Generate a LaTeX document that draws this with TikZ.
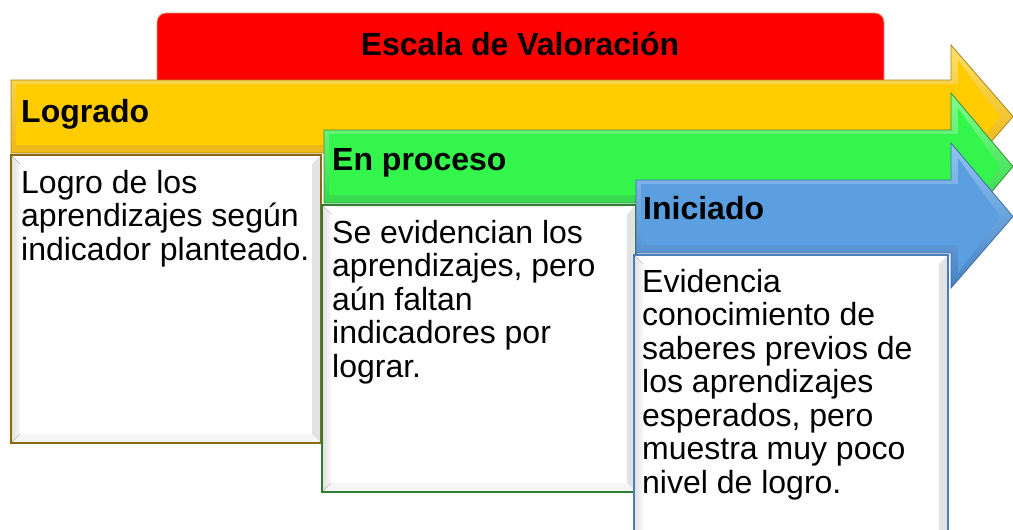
\documentclass[tikz,border=0pt]{standalone}
\usepackage{fontspec}
\setmainfont{Liberation Sans}
\usetikzlibrary{fit}
\definecolor{ylmain}{HTML}{FFCC00}
\definecolor{yllight}{HTML}{FFE066}
\definecolor{yldark}{HTML}{E6AA00}
\definecolor{ylline}{HTML}{A8841C}
\definecolor{grmain}{HTML}{33F54B}
\definecolor{grlight}{HTML}{80FF8E}
\definecolor{grdark}{HTML}{1FCC38}
\definecolor{grline}{HTML}{3A8F3A}
\definecolor{blmain}{HTML}{5B9FE0}
\definecolor{bllight}{HTML}{90C4F4}
\definecolor{bldark}{HTML}{4682C4}
\definecolor{blline}{HTML}{41709F}
\definecolor{titlered}{HTML}{FF0000}
\definecolor{titleline}{HTML}{E0A070}
\definecolor{ylbox}{HTML}{8B6914}
\definecolor{grbox}{HTML}{2E7D32}
\definecolor{blbox}{HTML}{4A7EBB}

\tikzset{
  headtext/.style={font=\fontsize{32}{34}\selectfont\bfseries, inner sep=0pt, anchor=base west},
  bodytext/.style={font=\fontsize{32}{33.5}\selectfont, inner sep=0pt, anchor=base west},
  boxframe/.style={inner sep=0pt, line width=1.6pt},
}

% #1 x0, #2 body top, #3 body bottom, #4 head top, #5 head bottom, #6 colour prefix
\newcommand\bevarrow[6]{%
  \path[top color=#6light, bottom color=#6dark, draw=#6line, line width=0.8pt]
    (#1,#2) -- (951,#2) -- (951,#4) -- (1013,{(#2+#3)/2}) -- (951,#5) -- (951,#3) -- (#1,#3) -- cycle;
  \fill[#6main] ({#1+5},{#2+4}) -- (958,{#2+4}) -- (958,{#4+15}) -- (1000,{(#2+#3)/2})
    -- (958,{#5-15}) -- (958,{#3-8}) -- ({#1+5},{#3-8}) -- cycle;
}

% #1 name, #2 x0, #3 y0, #4 x1, #5 y1, #6 border colour
\newcommand\txtbox[6]{%
  \fill[gray!10] (#2,#3) rectangle (#4,#5);
  \fill[white] (#2,#3) -- (#4,#3) -- ({#4-9},{#3+9}) -- ({#2+9},{#3+9}) -- cycle;
  \fill[gray!22] (#4,#3) -- (#4,#5) -- ({#4-9},{#5-9}) -- ({#4-9},{#3+9}) -- cycle;
  \fill[gray!7] (#2,#5) -- (#4,#5) -- ({#4-9},{#5-9}) -- ({#2+9},{#5-9}) -- cycle;
  \fill[left color=gray!25, right color=gray!5] (#2,#3) -- ({#2+9},{#3+9}) -- ({#2+9},{#5-9}) -- (#2,#5) -- cycle;
  \fill[white] ({#2+9},{#3+9}) rectangle ({#4-9},{#5-9});
  \node[fit={(#2,#3) (#4,#5)}, boxframe, draw=#6] (#1) {};
}

\begin{document}
\begin{tikzpicture}[x=1pt, y=-1pt]
\useasboundingbox (0,0) rectangle (1013,530);
\clip (0,0) rectangle (1013,530);

% title bar
\node[fit={(157,13) (884,95)}, inner sep=0pt, fill=titlered, draw=titleline, line width=0.8pt, rounded corners=9pt] (titlebox) {};
\node[font=\fontsize{32}{36}\selectfont\bfseries, inner sep=0pt, anchor=base] (title) at (520,56) {Escala de Valoración};

% Logrado
\bevarrow{11}{80}{153}{45}{188}{yl}
\node[headtext] (h1) at (21,122) {Logrado};
\txtbox{b1}{11}{155}{321}{443}{ylbox}
\node[bodytext] (t1) at (21,193) {\vtop{\hbox{Logro de los}\hbox{aprendizajes según}\hbox{indicador planteado.}}};

% En proceso
\bevarrow{324}{130}{203}{93}{240}{gr}
\node[headtext] (h2) at (332,170) {En proceso};
\txtbox{b2}{322}{205}{636}{492}{grbox}
\node[bodytext] (t2) at (332,243) {\vtop{\hbox{Se evidencian los}\hbox{aprendizajes, pero}\hbox{aún faltan}\hbox{indicadores por}\hbox{lograr.}}};

% Iniciado
\bevarrow{636}{180}{253}{143}{288}{bl}
\node[headtext] (h3) at (643,219) {Iniciado};
\txtbox{b3}{634}{255}{948}{545}{blbox}
\node[bodytext] (t3) at (642,292) {\vtop{\hbox{Evidencia}\hbox{conocimiento de}\hbox{saberes previos de}\hbox{los aprendizajes}\hbox{esperados, pero}\hbox{muestra muy poco}\hbox{nivel de logro.}}};
\end{tikzpicture}
\end{document}
